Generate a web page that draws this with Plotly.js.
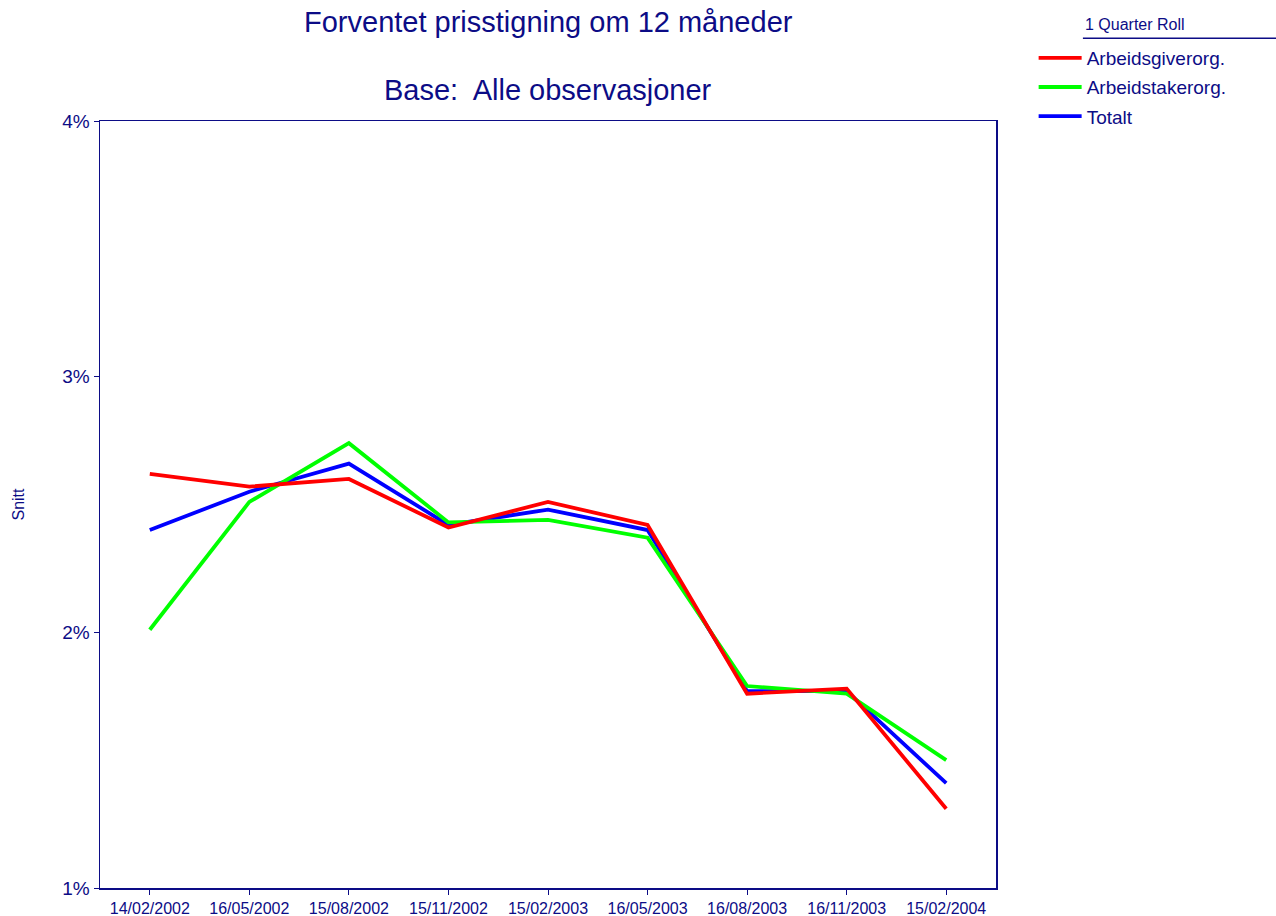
<!DOCTYPE html>
<html>
<head>
<meta charset="utf-8">
<script src="https://cdn.plot.ly/plotly-3.0.1.min.js"></script>
<style>
  html, body { margin: 0; padding: 0; background: #fff; }
  #chart { width: 1276px; height: 916px; }
</style>
</head>
<body>
<div id="chart"></div>
<script>
var dates = ["14/02/2002", "16/05/2002", "15/08/2002", "15/11/2002", "15/02/2003",
             "16/05/2003", "16/08/2003", "16/11/2003", "15/02/2004"];
var arbeidsgiver = [2.62, 2.57, 2.60, 2.41, 2.51, 2.42, 1.76, 1.78, 1.31];
var arbeidstaker = [2.01, 2.51, 2.74, 2.43, 2.44, 2.37, 1.79, 1.76, 1.50];
var totalt = [2.40, 2.55, 2.66, 2.42, 2.48, 2.40, 1.77, 1.77, 1.41];
var yTicks = [1, 2, 3, 4];
var yTickText = ["1%", "2%", "3%", "4%"];

var navy = "#0c0c86";
var font = "Liberation Sans, Arial, sans-serif";

function line(name, values, color, rank) {
    return {
        x: dates,
        y: values,
        name: name,
        legendgroup: name,
        legendrank: rank,
        type: 'scatter',
        mode: 'lines',
        line: { color: color, width: 3.8 }
    };
}

// blue drawn first so red ends up on top; legendrank puts red first in legend
var data = [
    line('Totalt', totalt, '#0000ff', 3),
    line('Arbeidstakerorg.', arbeidstaker, '#00ff00', 2),
    line('Arbeidsgiverorg.', arbeidsgiver, '#ff0000', 1)
];

var layout = {
    width: 1276,
    height: 916,
    margin: { l: 100, r: 280, t: 121, b: 28 },
    paper_bgcolor: '#ffffff',
    plot_bgcolor: '#ffffff',
    font: { family: font, color: navy, size: 16 },
    showlegend: true,
    legend: {
        x: 1.042, y: 1.107,
        xanchor: 'left', yanchor: 'top',
        traceorder: 'grouped',
        font: { size: 19, color: navy },
        itemwidth: 43,
        tracegroupgap: 1.5,
        bgcolor: 'rgba(0,0,0,0)'
    },
    xaxis: {
        type: 'category',
        range: [-0.5, 8.5],
        showline: true, linecolor: navy, linewidth: 1.5, mirror: true,
        ticks: 'outside', ticklen: 5, tickcolor: navy,
        showgrid: false, zeroline: false,
        tickfont: { size: 16, color: navy }
    },
    yaxis: {
        range: [1, 4],
        tickmode: 'array',
        tickvals: yTicks,
        ticktext: yTickText,
        showline: true, linecolor: navy, linewidth: 1.5, mirror: true,
        ticks: 'outside', ticklen: 5, tickcolor: navy,
        showgrid: false, zeroline: false,
        tickfont: { size: 19, color: navy }
    },
    annotations: [
        { text: 'Forventet prisstigning om 12 måneder', xref: 'paper', yref: 'paper',
          x: 0.5, y: 1.129, xanchor: 'center', yanchor: 'middle', showarrow: false,
          font: { size: 29, color: navy } },
        { text: 'Base:  Alle observasjoner', xref: 'paper', yref: 'paper',
          x: 0.5, y: 1.041, xanchor: 'center', yanchor: 'middle', showarrow: false,
          font: { size: 29, color: navy } },
        { text: '1 Quarter Roll', xref: 'paper', yref: 'paper',
          x: 1.097, y: 1.126, xanchor: 'left', yanchor: 'middle', showarrow: false,
          font: { size: 16, color: navy } },
        { text: 'Snitt', xref: 'paper', yref: 'paper', textangle: -90,
          x: -0.0915, y: 0.5, xanchor: 'center', yanchor: 'middle', showarrow: false,
          font: { size: 16, color: navy } }
    ],
    shapes: [
        { type: 'line', xref: 'paper', yref: 'paper', x0: 1.097, x1: 1.32, y0: 1.108, y1: 1.108,
          line: { color: navy, width: 1.5 } }
    ]
};

Plotly.newPlot('chart', data, layout, { displayModeBar: false, staticPlot: true });
</script>
</body>
</html>
